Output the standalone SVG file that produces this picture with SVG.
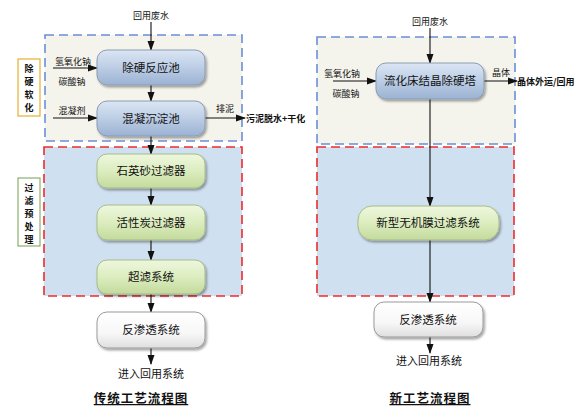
<svg xmlns="http://www.w3.org/2000/svg" width="587" height="419" viewBox="0 0 587 419">
<style>
text{font-family:"Noto Sans CJK SC","Liberation Sans",sans-serif;fill:#111}
.lbl{font-size:9px}
.node{font-size:11.5px;text-anchor:middle}
.bold{font-weight:bold}
.title{font-size:12.5px;font-weight:bold;text-anchor:middle;text-decoration:underline;letter-spacing:1px}
.conn line,.conn path{stroke:#111;stroke-width:1.1;fill:none}
.zoneB{fill:#f4f3ec;stroke:#6a8fd6;stroke-width:1.6;stroke-dasharray:9 5}
.zoneR{fill:#cfe0f1;stroke:#ee2b2b;stroke-width:1.6;stroke-dasharray:9 5}
.blue{fill:url(#gb);stroke:#8a9cb4;stroke-width:1;filter:url(#sh)}
.green{fill:url(#gg);stroke:#a8bb88;stroke-width:1;filter:url(#sh)}
.white{fill:url(#gw);stroke:#9a9a9a;stroke-width:1;filter:url(#sh)}
</style>
<defs>
<linearGradient id="gb" x1="0" y1="0" x2="0" y2="1"><stop offset="0" stop-color="#dbe6f4"/><stop offset="0.5" stop-color="#bccde5"/><stop offset="1" stop-color="#9bb2d2"/></linearGradient>
<linearGradient id="gg" x1="0" y1="0" x2="0" y2="1"><stop offset="0" stop-color="#eef7de"/><stop offset="0.5" stop-color="#dcedbf"/><stop offset="1" stop-color="#c3da9c"/></linearGradient>
<linearGradient id="gw" x1="0" y1="0" x2="0" y2="1"><stop offset="0" stop-color="#ffffff"/><stop offset="0.6" stop-color="#f7f7f7"/><stop offset="1" stop-color="#dedede"/></linearGradient>
<filter id="sh" x="-10%" y="-20%" width="125%" height="150%"><feDropShadow dx="1.5" dy="2" stdDeviation="1.2" flood-color="#000" flood-opacity="0.35"/></filter>
<marker id="ar" markerWidth="10" markerHeight="8" refX="9" refY="4" orient="auto" markerUnits="userSpaceOnUse"><path d="M0,0.5 L10,4 L0,7.5 Z" fill="#111"/></marker>
</defs>
<rect width="587" height="419" fill="#fff"/>

<g id="zones">
<rect class="zoneB" x="45" y="35" width="197" height="106"/>
<rect class="zoneR" x="44" y="147" width="198" height="149"/>
<rect class="zoneB" x="317" y="37" width="198" height="107"/>
<rect class="zoneR" x="317" y="147" width="197" height="149"/>
</g>

<g id="label-softening">
<rect x="18" y="59" width="22" height="57" fill="#fff" stroke="#e8b030" stroke-width="1.2"/>
<text class="lbl bold" x="29" y="72" text-anchor="middle">除</text>
<text class="lbl bold" x="29" y="85" text-anchor="middle">硬</text>
<text class="lbl bold" x="29" y="98" text-anchor="middle">软</text>
<text class="lbl bold" x="29" y="111" text-anchor="middle">化</text>
</g>
<g id="label-pretreat">
<rect x="18" y="178" width="22" height="68" fill="#fff" stroke="#8cb06a" stroke-width="1.2"/>
<text class="lbl bold" x="29" y="191" text-anchor="middle">过</text>
<text class="lbl bold" x="29" y="204" text-anchor="middle">滤</text>
<text class="lbl bold" x="29" y="217" text-anchor="middle">预</text>
<text class="lbl bold" x="29" y="230" text-anchor="middle">处</text>
<text class="lbl bold" x="29" y="243" text-anchor="middle">理</text>
</g>

<g class="conn" id="connectors">
<line x1="151" y1="22" x2="151" y2="50" marker-end="url(#ar)"/>
<line x1="53" y1="68" x2="97" y2="68" marker-end="url(#ar)"/>
<line x1="151" y1="85" x2="151" y2="101" marker-end="url(#ar)"/>
<line x1="53" y1="118" x2="97" y2="118" marker-end="url(#ar)"/>
<line x1="205" y1="118" x2="245" y2="118" marker-end="url(#ar)"/>
<line x1="151" y1="136" x2="151" y2="154" marker-end="url(#ar)"/>
<line x1="151" y1="188" x2="151" y2="205" marker-end="url(#ar)"/>
<line x1="151" y1="240" x2="151" y2="260" marker-end="url(#ar)"/>
<line x1="151" y1="294" x2="151" y2="312" marker-end="url(#ar)"/>
<line x1="151" y1="348" x2="151" y2="364" marker-end="url(#ar)"/>

<line x1="430" y1="28" x2="430" y2="63" marker-end="url(#ar)"/>
<line x1="333" y1="81" x2="376" y2="81" marker-end="url(#ar)"/>
<line x1="484" y1="81" x2="517" y2="81" marker-end="url(#ar)"/>
<line x1="430" y1="99" x2="430" y2="206" marker-end="url(#ar)"/>
<line x1="430" y1="240" x2="430" y2="302" marker-end="url(#ar)"/>
<line x1="430" y1="337" x2="430" y2="353" marker-end="url(#ar)"/>
</g>

<g id="texts-left">
<text class="lbl" x="151" y="19" text-anchor="middle">回用废水</text>
<text class="lbl" x="73" y="65" text-anchor="middle">氢氧化钠</text>
<text class="lbl" x="72" y="85" text-anchor="middle">碳酸钠</text>
<text class="lbl" x="72" y="114" text-anchor="middle">混凝剂</text>
<text class="lbl" x="225" y="112" text-anchor="middle">排泥</text>
<text class="lbl bold" x="246" y="122">污泥脱水+干化</text>
<text x="151" y="378" text-anchor="middle" font-size="11">进入回用系统</text>
<text class="title" x="141" y="403">传统工艺流程图</text>
</g>

<g id="n-chuying"><rect class="blue" x="97" y="50" width="108" height="35" rx="10"/><text class="node" x="151" y="72">除硬反应池</text></g>
<g id="n-hunning"><rect class="blue" x="97" y="101" width="108" height="35" rx="10"/><text class="node" x="151" y="123">混凝沉淀池</text></g>
<g id="n-shiying"><rect class="green" x="97" y="154" width="108" height="34" rx="10"/><text class="node" x="151" y="175">石英砂过滤器</text></g>
<g id="n-huoxing"><rect class="green" x="97" y="205" width="108" height="35" rx="10"/><text class="node" x="151" y="227">活性炭过滤器</text></g>
<g id="n-chaolv"><rect class="green" x="97" y="260" width="108" height="34" rx="10"/><text class="node" x="151" y="281">超滤系统</text></g>
<g id="n-ro1"><rect class="white" x="97" y="312" width="108" height="36" rx="10"/><text class="node" x="151" y="334">反渗透系统</text></g>

<g id="texts-right">
<text class="lbl" x="430" y="25" text-anchor="middle">回用废水</text>
<text class="lbl" x="342" y="77" text-anchor="middle">氢氧化钠</text>
<text class="lbl" x="346" y="97" text-anchor="middle">碳酸钠</text>
<text class="lbl" x="501" y="76" text-anchor="middle">晶体</text>
<text class="lbl bold" x="517" y="85">晶体外运/回用</text>
<text x="429" y="365" text-anchor="middle" font-size="11">进入回用系统</text>
<text class="title" x="430" y="403">新工艺流程图</text>
</g>

<g id="n-liuhua"><rect class="blue" x="376" y="63" width="108" height="36" rx="10"/><text class="node" x="430" y="85">流化床结晶除硬塔</text></g>
<g id="n-wuji"><rect class="green" x="358" y="206" width="141" height="34" rx="14"/><text class="node" x="428" y="227">新型无机膜过滤系统</text></g>
<g id="n-ro2"><rect class="white" x="374" y="302" width="109" height="35" rx="10"/><text class="node" x="428" y="324">反渗透系统</text></g>
</svg>
